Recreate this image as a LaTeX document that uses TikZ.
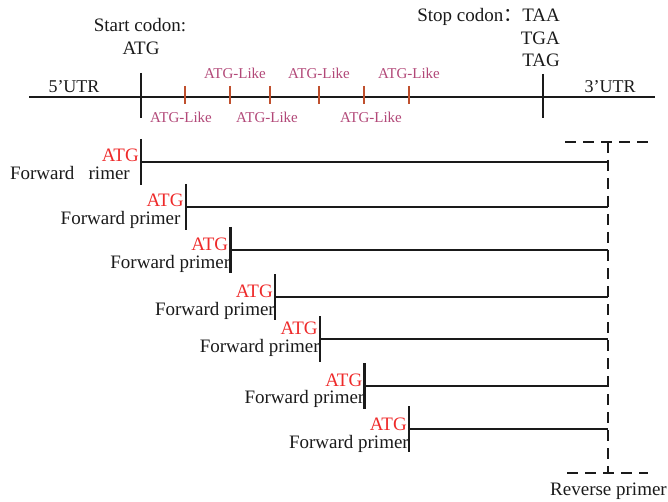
\documentclass[tikz,border=0pt]{standalone}
\usepackage{fontspec}
\setmainfont{Liberation Serif}
\newfontfamily\cjk{Noto Sans CJK SC}
\definecolor{likecol}{HTML}{B24878}
\definecolor{likemark}{HTML}{C0502E}
\definecolor{atgred}{HTML}{EE2A2A}
\definecolor{ink}{HTML}{1A1A1A}
\begin{document}
\begin{tikzpicture}[x=1pt,y=-1pt,
  txt/.style={inner sep=0pt, text=ink, font=\fontsize{19}{22}\selectfont},
  utr/.style={inner sep=0pt, text=ink, font=\fontsize{18}{21}\selectfont},
  likelbl/.style={inner sep=0pt, text=likecol, font=\fontsize{15}{18}\selectfont},
  atglbl/.style={inner sep=0pt, text=atgred, font=\fontsize{19}{22}\selectfont, anchor=base east},
  fwdlbl/.style={inner sep=0pt, text=ink, font=\fontsize{19}{22}\selectfont, anchor=base east},
  seq/.style={draw=ink, line width=1.8pt},
  codonmark/.style={draw=ink, line width=2.4pt},
  likemarkstyle/.style={draw=likemark, line width=1.8pt},
  primerline/.style={draw=ink, line width=1.8pt},
  primermark/.style={draw=ink, line width=2.4pt},
  revline/.style={draw=ink, line width=2pt, dash pattern=on 11pt off 7pt}]
\useasboundingbox (0,0) rectangle (668,502);

% mRNA line with start and stop codon marks
\coordinate (mL) at (29,97);
\coordinate (mR) at (655,97);
\draw[seq] (mL) -- (mR);
\coordinate (startT) at (141,73);
\coordinate (startB) at (141,118);
\draw[codonmark] (startT) -- (startB);
\coordinate (stopT) at (543,74);
\coordinate (stopB) at (543,118);
\draw[codonmark] (stopT) -- (stopB);

\node[utr, anchor=base] (utr5) at (74,93) {5’UTR};
\node[utr, anchor=base] (utr3) at (610,93) {3’UTR};

\node[txt, anchor=base] (startlbl) at (140,32) {Start codon:};
\node[txt, anchor=base] (startatg) at (141,55) {ATG};

\node[txt, anchor=base east] (stop1) at (560,22) {Stop codon{\cjk ：}TAA};
\node[txt, anchor=base east] (stop2) at (560,45) {TGA};
\node[txt, anchor=base east] (stop3) at (560,67) {TAG};

% ATG-like sites
\foreach \x [count=\i] in {185,230,270,319,364,409}{
  \coordinate (likeT\i) at (\x,86);
  \coordinate (likeB\i) at (\x,104);
  \draw[likemarkstyle] (likeT\i) -- (likeB\i);
}
\foreach \x [count=\i] in {235,319,409}
  \node[likelbl, anchor=base] (likeup\i) at (\x,79) {ATG-Like};
\foreach \x [count=\i] in {181,267,371}
  \node[likelbl, anchor=base] (likedn\i) at (\x,123) {ATG-Like};

% reverse primer boundary
\coordinate (revTL) at (565,142);
\coordinate (revTR) at (648,142);
\coordinate (revT) at (608,142);
\coordinate (revB) at (608,473);
\coordinate (revBL) at (567,473);
\coordinate (revBR) at (648,473);
\draw[revline] (revT) -- (revB);
\draw[revline] (revTL) -- (revTR);
\draw[revline] (revBL) -- (revBR);
\node[txt, anchor=base east] (revlbl) at (667,495) {Reverse primer};

% forward primers, one per candidate start
\foreach \x/\y/\ao/\fx/\fo [count=\i] in
  {141/162/0/-11/18, 185.7/207/0/-5/18, 230.4/250/1/0/19, 275/297/0/0/18,
   319.8/339/-5/0/13, 364.5/386/0/0/17, 409/429/1/0/19}{
  \coordinate (fT\i) at (\x,\y-23);
  \coordinate (fB\i) at (\x,\y+23);
  \coordinate (fS\i) at (\x,\y);
  \coordinate (fE\i) at (608,\y);
  \draw[primerline] (fS\i) -- (fE\i);
  \draw[primermark] (fT\i) -- (fB\i);
  \node[atglbl] (atg\i) at (\x-2,\y+\ao) {ATG};
}
\node[fwdlbl] (fwd1) at (130,180) {Forward \phantom{p}rimer};
\foreach \x/\y/\fx/\fo [count=\i from 2] in
  {185.7/207/-5/18, 230.4/250/0/19, 275/297/0/18,
   319.8/339/0/13, 364.5/386/0/17, 409/429/0/19}{
  \node[fwdlbl] (fwd\i) at (\x+\fx,\y+\fo) {Forward primer};
}
\end{tikzpicture}
\end{document}
